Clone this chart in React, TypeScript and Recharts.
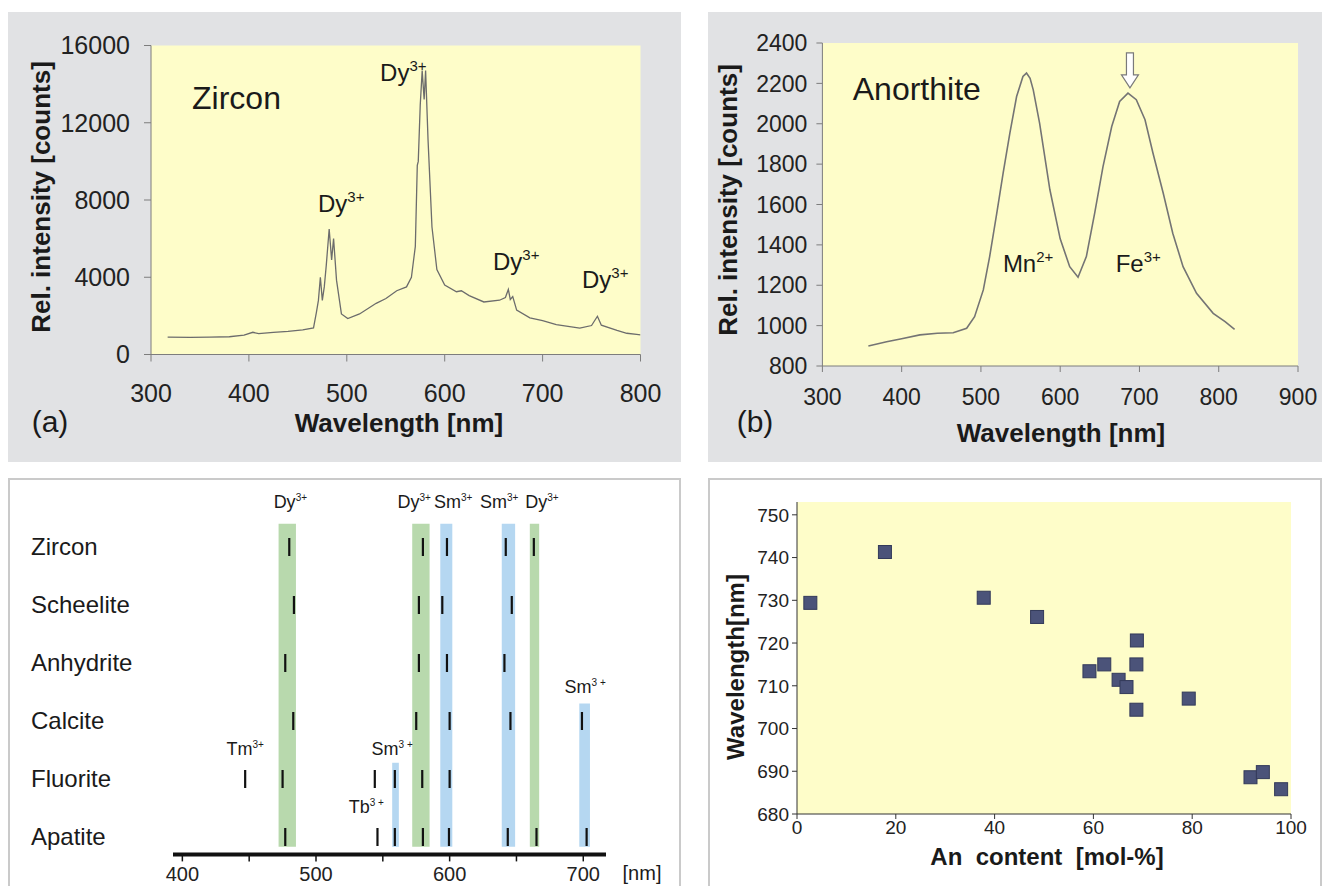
import { LineChart, Line, ScatterChart, Scatter, XAxis, YAxis, CartesianGrid, ReferenceArea, ReferenceDot } from "recharts";

// (a) zircon spectrum
const zirconNm = [317, 340, 360, 380, 395, 404, 410, 425, 440, 455, 466, 469, 471, 473, 475, 477, 479, 482, 484.5, 486.5, 489.5, 494.5, 501, 513, 530, 540, 551, 561, 566, 570, 572, 573, 575, 577, 579, 580.5, 583, 587, 592, 600, 612, 617, 625, 640, 656, 662, 665, 667, 669.5, 673.5, 687, 700, 714, 738, 750, 756, 760, 776, 786, 796, 800];
const zirconCounts = [900, 890, 900, 920, 1000, 1150, 1080, 1150, 1200, 1280, 1380, 2200, 2800, 4000, 2800, 3500, 4600, 6500, 4900, 6000, 3850, 2100, 1860, 2100, 2650, 2900, 3300, 3500, 4000, 5600, 9800, 10000, 12900, 14700, 13200, 14700, 11100, 6600, 4400, 3600, 3250, 3300, 3050, 2720, 2810, 2950, 3370, 2850, 3000, 2300, 1900, 1750, 1550, 1370, 1500, 1980, 1520, 1250, 1100, 1040, 1020];
const zirconXTicks = [300, 400, 500, 600, 700, 800];
const zirconYTicks = [0, 4000, 8000, 12000, 16000];
const zirconDyNm = [534, 470.6, 649.3, 740.2];
const zirconDyCounts = [14170, 7400, 4375, 3440];

// (b) anorthite spectrum
const anorthiteNm = [358, 381, 400, 423, 445, 465, 482, 492, 503, 511, 520, 528, 536.5, 545, 553, 557.5, 562, 566, 574, 587, 600, 612, 622.5, 633, 643.5, 654, 665, 675, 685.5, 696, 707, 717, 730, 742, 755, 772, 793, 808, 820];
const anorthiteCounts = [899, 920, 935, 954, 962, 965, 987, 1044, 1177, 1342, 1557, 1755, 1954, 2135, 2234, 2251, 2225, 2168, 2003, 1673, 1430, 1292, 1240, 1342, 1557, 1788, 1986, 2110, 2152, 2119, 2020, 1855, 1656, 1458, 1292, 1160, 1061, 1020, 982];
const anorthiteXTicks = [300, 400, 500, 600, 700, 800, 900];
const anorthiteYTicks = [800, 1000, 1200, 1400, 1600, 1800, 2000, 2200, 2400];

// (c) emission lines per mineral
const minerals = ["Zircon", "Scheelite", "Anhydrite", "Calcite", "Fluorite", "Apatite"];
const zirconLines = [480, 580, 598, 642, 663];
const scheeliteLines = [483.5, 577, 594.5, 646.5];
const anhydriteLines = [477, 577, 598, 641];
const calciteLines = [483, 575, 600, 645.5, 699];
const fluoriteLines = [447, 475, 544, 559, 579.5, 600];
const apatiteLines = [477, 546, 559, 580, 599.5, 643.5, 665, 702.5];
const bandIon = ["Dy", "Dy", "Sm", "Sm", "Dy", "Sm", "Sm"];
const bandFrom = [472, 572, 593, 639, 660, 697, 557];
const bandTo = [485, 585, 602, 649, 667, 705, 562];
const bandTopRow = [-0.4, -0.4, -0.4, -0.4, -0.4, 2.7, 3.72];
const ionLabelText = ["Dy", "Dy", "Sm", "Sm", "Dy", "Sm", "Tm", "Sm", "Tb"];
const ionLabelCharge = ["3+", "3+", "3+", "3+", "3+", "3 +", "3+", "3 +", "3 +"];
const ionLabelNm = [480.8, 573.5, 602.7, 637, 669, 701.4, 447, 557, 537.6];
const ionLabelRow = [-0.78, -0.78, -0.78, -0.78, -0.78, 2.41, 3.48, 3.48, 4.48];
const linesXTicks = [400, 450, 500, 550, 600, 650, 700];

// (d) An content vs. Fe3+ peak position
const anContent = [2.7, 17.8, 37.8, 48.6, 68.8, 59.2, 62.2, 68.7, 65.1, 66.7, 79.3, 68.7, 91.8, 94.3, 98.0];
const peakWavelength = [729.4, 741.3, 730.6, 726.1, 720.6, 713.4, 715.0, 715.0, 711.4, 709.7, 707.0, 704.4, 688.6, 689.8, 685.8];
const anXTicks = [0, 20, 40, 60, 80, 100];
const anYTicks = [680, 690, 700, 710, 720, 730, 740, 750];

const zirconData = zirconNm.map((nm, i) => ({ nm, counts: zirconCounts[i] }));
const anorthiteData = anorthiteNm.map((nm, i) => ({ nm, counts: anorthiteCounts[i] }));
const lineSets = [zirconLines, scheeliteLines, anhydriteLines, calciteLines, fluoriteLines, apatiteLines];
const markerData = lineSets.flatMap((set, row) => set.map((nm) => ({ nm, row })));
const anData = anContent.map((an, i) => ({ an, wl: peakWavelength[i] }));

const FONT = "'Liberation Sans', Arial, Helvetica, sans-serif";
const panelGrey = "#e1e2e4";
const plotYellow = "#fefdc9";
const axisGrey = "#7d7d7d";
const frameGrey = "#b9b9a8";

const IonText = (props: any) => {
  const { cx, cy, ion, charge, size, sup, anchor } = props;
  const dy = anchor === "middle" ? size * 0.35 : 0;
  return (
    <text x={cx} y={cy + dy} fontSize={size} textAnchor={anchor || "start"} fill="#1a1a1a" fontFamily={FONT}>
      {ion}
      <tspan dy={-size * 0.42} fontSize={sup}>
        {charge}
      </tspan>
    </text>
  );
};

const PlainText = (props: any) => (
  <text x={props.cx} y={props.cy} fontSize={props.size} fill="#1a1a1a" fontFamily={FONT}>
    {props.value}
  </text>
);

const DownArrow = (props: any) => {
  const { cx, cy } = props;
  const pts = [
    [cx - 3.5, cy - 35],
    [cx + 3.5, cy - 35],
    [cx + 3.5, cy - 13],
    [cx + 8.5, cy - 13],
    [cx, cy],
    [cx - 8.5, cy - 13],
    [cx - 3.5, cy - 13],
  ]
    .map((p) => p.join(","))
    .join(" ");
  return <polygon points={pts} fill="#ffffff" stroke="#7a7a7a" strokeWidth={1.2} />;
};

const LineMarker = (props: any) => (
  <line x1={props.cx} x2={props.cx} y1={props.cy - 9} y2={props.cy + 9} stroke="#111" strokeWidth={2.2} />
);

const SquareMarker = (props: any) => (
  <rect x={props.cx - 6.5} y={props.cy - 6.5} width={13} height={13} fill="#4b5379" stroke="#333a5a" strokeWidth={1} />
);

const MineralTick = (props: any) => (
  <text x={props.x - 142} y={props.y} dy="0.35em" fontSize={24} fill="#1a1a1a" fontFamily={FONT}>
    {minerals[props.payload.value]}
  </text>
);

const Title = (props: any) => (
  <div
    style={{
      position: "absolute",
      left: props.x,
      top: props.y,
      transform: `translate(-50%, -50%)${props.rotate ? " rotate(-90deg)" : ""}`,
      fontSize: props.size,
      fontWeight: props.bold ? "bold" : "normal",
      whiteSpace: "nowrap",
      lineHeight: 1,
      color: "#1a1a1a",
      fontFamily: FONT,
    }}
  >
    {props.children}
  </div>
);

const tickA = { fill: "#222", fontSize: 25, fontFamily: FONT };
const tickB = { fill: "#222", fontSize: 23, fontFamily: FONT };

export default function App() {
  return (
    <div style={{ position: "absolute", left: 0, top: 0, width: 1322, height: 886, background: "#fff", overflow: "hidden", fontFamily: FONT }}>
      {/* (a) Zircon */}
      <div style={{ position: "absolute", left: 8, top: 12, width: 673, height: 450, background: panelGrey }}>
        <LineChart width={673} height={450} data={zirconData} margin={{ top: 33.5, right: 40.5, left: 63, bottom: 47.5 }}>
          <CartesianGrid fill={plotYellow} horizontal={false} vertical={false} />
          <XAxis dataKey="nm" type="number" domain={[300, 800]} ticks={zirconXTicks} allowDataOverflow height={60} tickSize={7} tickMargin={23} stroke={axisGrey} tick={tickA} />
          <XAxis xAxisId="top" orientation="top" type="number" domain={[300, 800]} height={0} tick={false} tickLine={false} stroke={frameGrey} />
          <YAxis type="number" domain={[0, 16000]} ticks={zirconYTicks} allowDataOverflow width={80} tickSize={7} tickMargin={14} stroke={axisGrey} tick={tickA} />
          <YAxis yAxisId="right" orientation="right" type="number" domain={[0, 16000]} width={0} tick={false} tickLine={false} stroke={frameGrey} />
          <Line dataKey="counts" type="linear" stroke="#6c6c6c" strokeWidth={1.3} dot={false} isAnimationActive={false} />
          <ReferenceDot x={341.9} y={12710} r={0} shape={(p: any) => <PlainText cx={p.cx} cy={p.cy} size={32} value="Zircon" />} />
          {zirconDyNm.map((nm, i) => (
            <ReferenceDot key={i} x={nm} y={zirconDyCounts[i]} r={0} shape={(p: any) => <IonText cx={p.cx} cy={p.cy} ion="Dy" charge="3+" size={24} sup={15} />} />
          ))}
        </LineChart>
        <Title x={42} y={410} size={30}>(a)</Title>
        <Title x={391} y={411} size={26} bold>Wavelength [nm]</Title>
        <Title x={33} y={185} size={26} bold rotate>Rel. intensity [counts]</Title>
      </div>

      {/* (b) Anorthite */}
      <div style={{ position: "absolute", left: 708, top: 12, width: 614, height: 450, background: panelGrey }}>
        <LineChart width={614} height={450} data={anorthiteData} margin={{ top: 31, right: 24, left: 34.4, bottom: 36 }}>
          <CartesianGrid fill={plotYellow} horizontal={false} vertical={false} />
          <XAxis dataKey="nm" type="number" domain={[300, 900]} ticks={anorthiteXTicks} allowDataOverflow height={60} tickSize={6} tickMargin={17} stroke={axisGrey} tick={tickB} />
          <XAxis xAxisId="top" orientation="top" type="number" domain={[300, 900]} height={0} tick={false} tickLine={false} stroke={frameGrey} />
          <YAxis type="number" domain={[800, 2400]} ticks={anorthiteYTicks} allowDataOverflow width={80} tickSize={6} tickMargin={9} stroke={axisGrey} tick={tickB} />
          <YAxis yAxisId="right" orientation="right" type="number" domain={[800, 2400]} width={0} tick={false} tickLine={false} stroke={frameGrey} />
          <Line dataKey="counts" type="linear" stroke="#747474" strokeWidth={1.6} dot={false} isAnimationActive={false} />
          <ReferenceDot x={338.3} y={2119} r={0} shape={(p: any) => <PlainText cx={p.cx} cy={p.cy} size={32} value="Anorthite" />} />
          <ReferenceDot x={527.7} y={1266} r={0} shape={(p: any) => <IonText cx={p.cx} cy={p.cy} ion="Mn" charge="2+" size={24} sup={15} />} />
          <ReferenceDot x={670} y={1266} r={0} shape={(p: any) => <IonText cx={p.cx} cy={p.cy} ion="Fe" charge="3+" size={24} sup={15} />} />
          <ReferenceDot x={688} y={2178} r={0} shape={(p: any) => <DownArrow cx={p.cx} cy={p.cy} />} />
        </LineChart>
        <Title x={47} y={410} size={30}>(b)</Title>
        <Title x={353} y={421} size={26} bold>Wavelength [nm]</Title>
        <Title x={20} y={188} size={26} bold rotate>Rel. intensity [counts]</Title>
      </div>

      {/* (c) emission line table */}
      <div style={{ position: "absolute", left: 8, top: 478, width: 673, height: 420, background: "#fff", outline: "2px solid #cacaca", outlineOffset: -2 }}>
        <ScatterChart width={673} height={408} margin={{ top: 11, right: 75, left: 15, bottom: 0 }}>
          <XAxis
            dataKey="nm"
            type="number"
            domain={[393, 717]}
            ticks={linesXTicks}
            allowDataOverflow
            height={31.6}
            tickSize={7}
            tickMargin={5}
            axisLine={{ stroke: "#111", strokeWidth: 4 }}
            tickLine={{ stroke: "#111", strokeWidth: 1.5 }}
            tick={{ fill: "#222", fontSize: 20, fontFamily: FONT }}
            tickFormatter={(v: number) => (v % 100 === 0 ? String(v) : "")}
          />
          <YAxis dataKey="row" type="number" domain={[-1, 5.3]} reversed ticks={[0, 1, 2, 3, 4, 5]} allowDataOverflow width={150} axisLine={false} tickLine={false} tickSize={0} tickMargin={0} tick={<MineralTick />} />
          {bandFrom.map((from, i) => (
            <ReferenceArea key={i} x1={from} x2={bandTo[i]} y1={bandTopRow[i]} y2={5.17} fill={bandIon[i] === "Dy" ? "#b8d9ad" : "#b5d7f1"} fillOpacity={1} stroke="none" />
          ))}
          <Scatter data={markerData} shape={<LineMarker />} isAnimationActive={false} />
          {ionLabelNm.map((nm, i) => (
            <ReferenceDot
              key={i}
              x={nm}
              y={ionLabelRow[i]}
              r={0}
              shape={(p: any) => <IonText cx={p.cx} cy={p.cy} ion={ionLabelText[i]} charge={ionLabelCharge[i]} size={18} sup={10} anchor="middle" />}
            />
          ))}
        </ScatterChart>
        <Title x={634} y={395} size={20}>[nm]</Title>
      </div>

      {/* (d) An content vs wavelength */}
      <div style={{ position: "absolute", left: 708, top: 478, width: 614, height: 420, background: "#fff", outline: "2px solid #cacaca", outlineOffset: -2 }}>
        <ScatterChart width={614} height={408} margin={{ top: 24, right: 31, left: 29, bottom: 32 }}>
          <CartesianGrid fill={plotYellow} horizontal={false} vertical={false} />
          <XAxis dataKey="an" type="number" domain={[0, 100]} ticks={anXTicks} allowDataOverflow height={40} tickSize={5} tickMargin={2} stroke="#333" tick={{ fill: "#222", fontSize: 19, fontFamily: FONT }} />
          <XAxis xAxisId="top" orientation="top" type="number" domain={[0, 100]} height={0} tick={false} tickLine={false} stroke={frameGrey} />
          <YAxis dataKey="wl" type="number" domain={[680, 753]} ticks={anYTicks} allowDataOverflow width={60} tickSize={5} tickMargin={3} stroke="#333" tick={{ fill: "#222", fontSize: 19, fontFamily: FONT }} />
          <YAxis yAxisId="right" orientation="right" type="number" domain={[680, 753]} width={0} tick={false} tickLine={false} stroke={frameGrey} />
          <Scatter data={anData} shape={<SquareMarker />} isAnimationActive={false} />
        </ScatterChart>
        <Title x={339} y={379} size={24} bold>An&nbsp; content&nbsp; [mol-%]</Title>
        <Title x={28} y={189} size={24} bold rotate>Wavelength[nm]</Title>
      </div>
    </div>
  );
}
